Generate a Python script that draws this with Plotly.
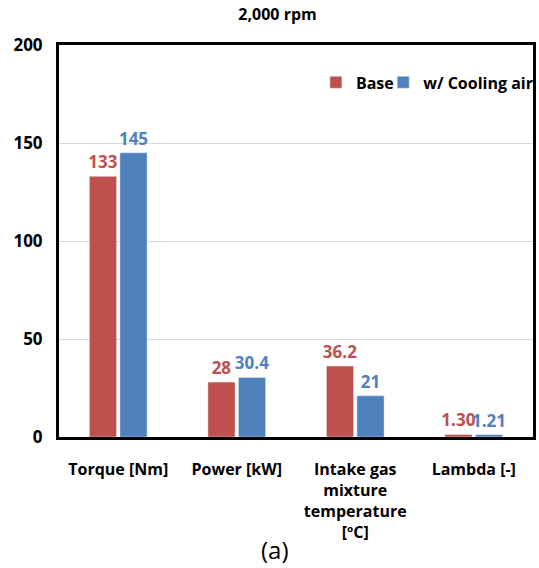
import plotly.graph_objects as go

categories = ["Torque [Nm]", "Power [kW]", "Intake gas<br>mixture<br>temperature<br>[ºC]", "Lambda [-]"]
base_values = [133, 28, 36.2, 1.30]
base_labels = ["133", "28", "36.2", "1.30"]
cool_values = [145, 30.4, 21, 1.21]
cool_labels = ["145", "30.4", "21", "1.21"]
y_ticks = [0, 50, 100, 150, 200]

RED = "#C0504D"
BLUE = "#4F81BD"
FONT = "Open Sans"

fig = go.Figure()
fig.add_trace(go.Bar(x=categories, y=base_values, name="Base", marker_color=RED,
                     text=base_labels, textposition="outside", constraintext="none",
                     cliponaxis=False, legend="legend",
                     textfont=dict(color=RED, size=17, family=FONT, weight="bold")))
fig.add_trace(go.Bar(x=categories, y=cool_values, name="w/ Cooling air", marker_color=BLUE,
                     text=cool_labels, textposition="outside", constraintext="none",
                     cliponaxis=False, legend="legend2",
                     textfont=dict(color=BLUE, size=17, family=FONT, weight="bold")))

legend_style = dict(orientation="h", yanchor="top", xanchor="left", y=0.948,
                    bgcolor="rgba(0,0,0,0)", font=dict(size=16, family=FONT, weight="bold"),
                    itemwidth=30)

fig.update_layout(
    width=539, height=568,
    margin=dict(l=59, r=6, t=45, b=131, autoexpand=False),
    paper_bgcolor="white", plot_bgcolor="white",
    font=dict(family=FONT, size=16, color="black", weight="bold"),
    barmode="group", bargap=0.485, bargroupgap=0.11,
    title=dict(text="2,000 rpm", x=0.515, xanchor="center", y=0.975, yanchor="middle",
               font=dict(size=16, family=FONT, weight="bold", color="black")),
    legend=dict(legend_style, x=0.542),
    legend2=dict(legend_style, x=0.684),
    showlegend=True,
)
fig.update_yaxes(range=[0, 200], tickvals=y_ticks, showgrid=True, gridcolor="#D9D9D9", gridwidth=1,
                 showline=True, linecolor="black", linewidth=3, mirror=True, automargin=False,
                 ticks="outside", ticklen=10, tickcolor="rgba(0,0,0,0)", zeroline=False,
                 tickfont=dict(size=17, family=FONT, weight="bold"))
fig.update_xaxes(showline=True, linecolor="black", linewidth=3, mirror=True, automargin=False,
                 ticks="outside", ticklen=16, tickcolor="rgba(0,0,0,0)",
                 tickfont=dict(size=16, family=FONT, weight="bold"))

fig.add_annotation(text="(a)", xref="paper", yref="paper", x=0.455, y=-0.286,
                   xanchor="center", yanchor="middle", showarrow=False,
                   font=dict(size=24, family=FONT, color="black", weight="normal"))

fig.write_html("out.html")
